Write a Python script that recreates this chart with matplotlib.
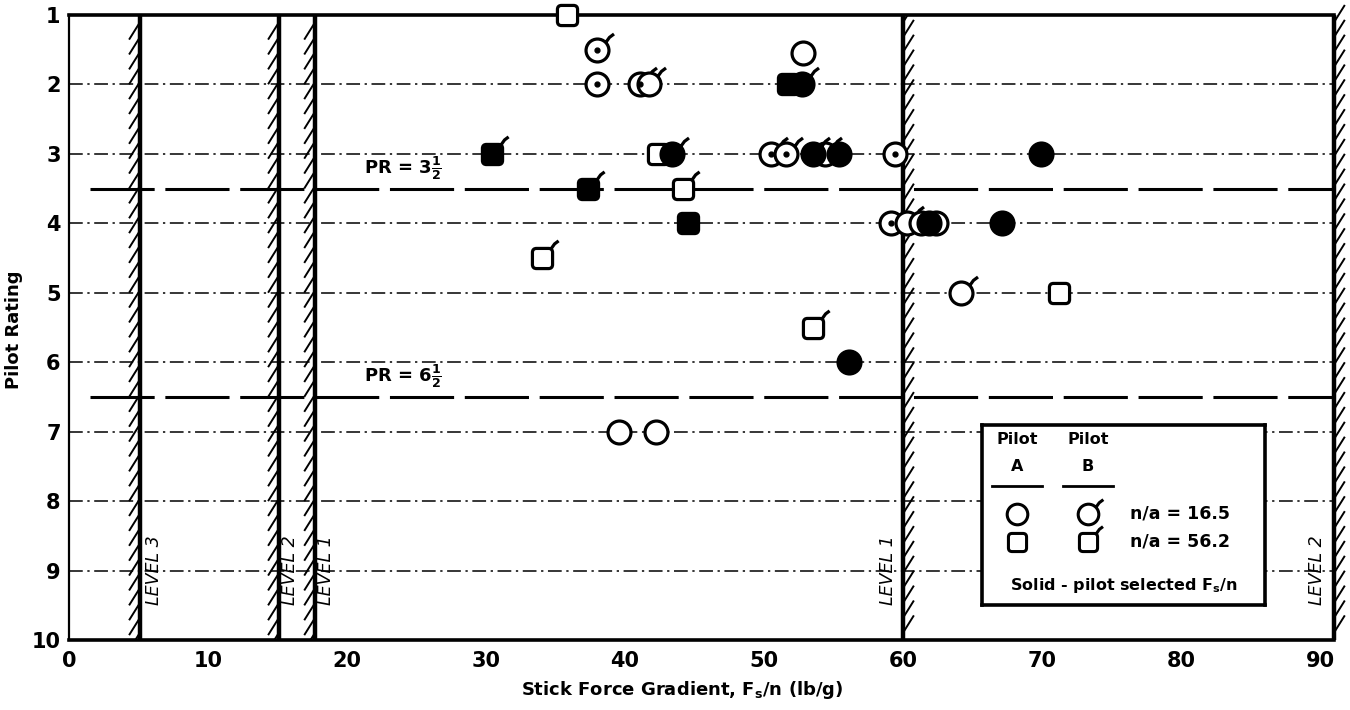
import numpy as np
import matplotlib
matplotlib.use("Agg")
import matplotlib.pyplot as plt
from matplotlib.path import Path
from matplotlib import patheffects as pe

# ---------------- data ----------------
force_gradient = [35.8, 38.0, 52.8, 38.0, 41.1, 41.7, 51.7, 52.7,
                  30.4, 42.4, 43.4, 50.5, 51.6, 53.5, 54.4, 55.4, 59.4, 69.9,
                  37.3, 44.2,
                  44.5, 59.1, 60.3, 61.3, 62.4, 61.9, 67.1,
                  34.0, 64.2, 71.2, 53.5, 56.1, 39.6, 42.2]
pilot_rating = [1.0, 1.5, 1.55, 2.0, 2.0, 2.0, 2.0, 2.0,
                3.0, 3.0, 3.0, 3.0, 3.0, 3.0, 3.0, 3.0, 3.0, 3.0,
                3.5, 3.5,
                4.0, 4.0, 4.0, 4.0, 4.0, 4.0, 4.0,
                4.5, 5.0, 5.0, 5.5, 6.0, 7.0, 7.0]
# 'c' : n/a = 16.5 (circle), 's' : n/a = 56.2 (square)
n_alpha = ['s', 'c', 'c', 'c', 'c', 'c', 's', 'c',
           's', 's', 'c', 'c', 'c', 'c', 'c', 'c', 'c', 'c',
           's', 's',
           's', 'c', 'c', 'c', 'c', 'c', 'c',
           's', 'c', 's', 's', 'c', 'c', 'c']
pilot = ['A', 'B', 'A', 'A', 'B', 'B', 'A', 'B',
         'B', 'A', 'B', 'B', 'B', 'B', 'B', 'A', 'A', 'A',
         'B', 'B',
         'A', 'A', 'B', 'A', 'A', 'A', 'A',
         'B', 'B', 'A', 'B', 'A', 'A', 'A']
pilot_selected = [False, False, False, False, False, False, True, True,
                  True, False, True, False, False, True, False, True, False, True,
                  True, False,
                  True, False, False, False, False, True, True,
                  False, False, False, False, True, False, False]
center_dot = [False, True, False, True, True, False, False, False,
              False, False, False, True, True, False, False, False, True, False,
              False, False,
              False, True, False, False, False, False, False,
              False, False, False, False, False, False, False]

level_x = [5.1, 15.1, 17.7, 60.0, 91.0]
level_names = ['LEVEL 3', 'LEVEL 2', 'LEVEL 1', 'LEVEL 1', 'LEVEL 2']
level_hatch = ['left', 'left', 'left', 'right', 'right']
level_text_x = [6.1, 15.9, 18.5, 58.9, 89.8]

pr_bounds = [3.5, 6.5]
pr_labels = [r'PR = 3$\frac{1}{2}$', r'PR = 6$\frac{1}{2}$']

xticks = list(range(0, 100, 10))
yticks = list(range(1, 11))

legend_rows = ['n/a = 16.5', 'n/a = 56.2']

# ---------------- marker shapes ----------------
def rounded_square():
    r = 0.4
    v = [(-1 + r, -1), (1 - r, -1), (1, -1), (1, -1 + r), (1, 1 - r), (1, 1), (1 - r, 1),
         (-1 + r, 1), (-1, 1), (-1, 1 - r), (-1, -1 + r), (-1, -1), (-1 + r, -1), (-1 + r, -1)]
    c = [Path.MOVETO, Path.LINETO, Path.CURVE3, Path.CURVE3, Path.LINETO, Path.CURVE3, Path.CURVE3,
         Path.LINETO, Path.CURVE3, Path.CURVE3, Path.LINETO, Path.CURVE3, Path.CURVE3, Path.CLOSEPOLY]
    return Path(v, c)

def with_flag(base, start):
    sx, sy = start
    f = Path([(sx, sy), (sx + 0.32, sy + 0.45), (sx + 0.72, sy + 0.75)],
             [Path.MOVETO, Path.LINETO, Path.LINETO])
    return Path.make_compound_path(base, f)

circ = Path.unit_circle()
sq = rounded_square()
circ_flag = with_flag(circ, (0.72, 0.69))
sq_flag = with_flag(sq, (0.88, 1.0))

def max_ext(p):
    return np.max(np.abs(p.vertices))

D_CIRC = 16.5
D_SQ = 14.5

def marker_for(shape, who):
    if shape == 'c':
        p = circ_flag if who == 'B' else circ
        return p, D_CIRC * max_ext(p)
    p = sq_flag if who == 'B' else sq
    return p, D_SQ * max_ext(p)

# ---------------- figure ----------------
plt.rcParams['font.family'] = ['DejaVu Sans']
plt.rcParams['mathtext.default'] = 'regular'
fig = plt.figure(figsize=(13.5, 7.1), dpi=100)
ax = fig.add_axes([69 / 1350, 1 - 640 / 710, (1334 - 69) / 1350, (640 - 15) / 710])
ax.set_xlim(0, 91)
ax.set_ylim(10, 1)

# grid of dash-dot rating lines
ax.hlines(yticks[1:-1], 0, 91, colors='k', linestyles=[(0, (9, 3, 1.5, 3))], lw=1.1, zorder=1)
# PR boundaries
ax.hlines(pr_bounds, 1.5, 91, colors='k', linestyles=[(0, (21, 3.5))], lw=2.2, zorder=2)
for yb, lab in zip(pr_bounds, pr_labels):
    ax.text(21.2, yb - 0.1, lab, fontsize=13, fontweight='bold', ha='left', va='bottom', zorder=3)

# level boundaries with hatching
for lx, side, name, tx in zip(level_x, level_hatch, level_names, level_text_x):
    ang = 148 if side == 'left' else -32
    ax.plot([lx, lx], [10, 1], color='k', lw=3.2, solid_capstyle='butt', zorder=3,
            clip_on=(lx < 91),
            path_effects=[pe.withTickedStroke(angle=ang, spacing=10.5, length=1.4, linewidth=1.4)])
    ax.text(tx, 9.0, name, rotation=90, fontsize=12.5, fontstyle='italic', ha='center',
            va='center', zorder=3)

# data points: open markers first, solid on top
order = sorted(range(len(force_gradient)), key=lambda i: pilot_selected[i])
for i in order:
    p, ms = marker_for(n_alpha[i], pilot[i])
    fc = 'black' if pilot_selected[i] else 'white'
    ax.plot(force_gradient[i], pilot_rating[i], linestyle='none', marker=p, markersize=ms,
            markerfacecolor=fc, markeredgecolor='black', markeredgewidth=2.3,
            zorder=5 if pilot_selected[i] else 4, clip_on=False)
    if center_dot[i]:
        ax.plot(force_gradient[i], pilot_rating[i], linestyle='none', marker='o', markersize=3.5,
                color='black', zorder=6, clip_on=False)

# axes styling
ax.spines['right'].set_visible(False)
ax.spines['left'].set_linewidth(1.6)
ax.spines['top'].set_linewidth(2.6)
ax.spines['bottom'].set_linewidth(2.6)
ax.set_xticks(xticks)
ax.set_yticks(yticks)
ax.set_xticklabels([str(v) for v in xticks], fontsize=15, fontweight='bold')
ax.set_yticklabels([str(v) for v in yticks], fontsize=15, fontweight='bold')
ax.tick_params(axis='both', length=0)
ax.tick_params(axis='x', pad=8)
ax.tick_params(axis='y', pad=6)
ax.set_xlabel('Stick Force Gradient, F$_s$/n (lb/g)', fontsize=13, fontweight='bold')
ax.set_ylabel('Pilot Rating', fontsize=13, fontweight='bold')
ax.xaxis.set_label_coords(0.485, -0.062)
ax.yaxis.set_label_coords(-0.036, 0.496)

# legend box
lax = ax.inset_axes([0.7217, 0.056, 0.2237, 0.288])
lax.set_xlim(0, 1)
lax.set_ylim(0, 1)
lax.set_xticks([])
lax.set_yticks([])
lax.set_facecolor('white')
lax.set_zorder(10)
for s in lax.spines.values():
    s.set_linewidth(2.6)
colA, colB = 0.124, 0.375
for cx, who in [(colA, 'A'), (colB, 'B')]:
    lax.text(cx, 0.917, 'Pilot', ha='center', va='center', fontsize=11.5, fontweight='bold')
    lax.text(cx, 0.767, who, ha='center', va='center', fontsize=11.5, fontweight='bold')
    lax.plot([cx - 0.088, cx + 0.088], [0.661, 0.661], color='k', lw=2)
for yrow, shape, lab in zip([0.506, 0.35], ['c', 's'], legend_rows):
    for cx, who in [(colA, 'A'), (colB, 'B')]:
        p, ms = marker_for(shape, who)
        lax.plot(cx, yrow, linestyle='none', marker=p, markersize=ms * 0.9,
                 markerfacecolor='white', markeredgecolor='black', markeredgewidth=2.2)
    lax.text(0.523, yrow, lab, ha='left', va='center', fontsize=12.5, fontweight='bold')
lax.text(0.5, 0.111, 'Solid - pilot selected F$_s$/n', ha='center', va='center',
         fontsize=11.5, fontweight='bold')

fig.savefig('out.png', dpi=100)
